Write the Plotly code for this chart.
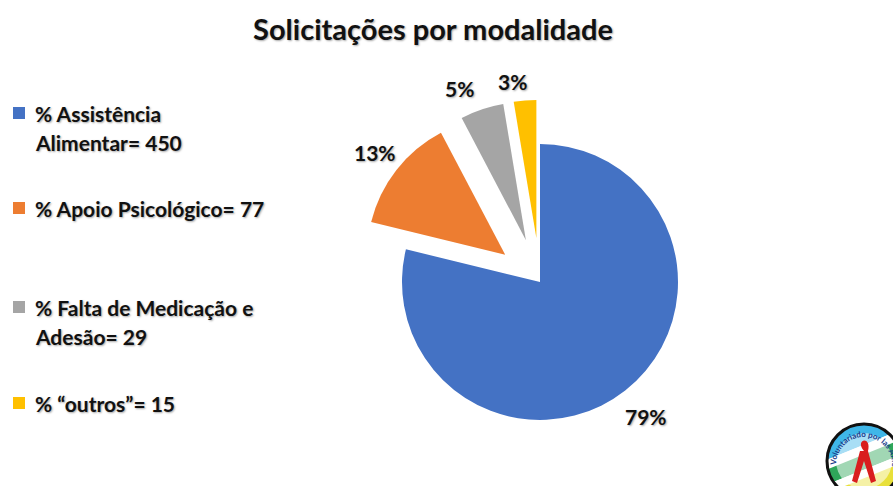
import base64
import math
import plotly.graph_objects as go

# data
labels = ["% Assistência<br>Alimentar", "% Apoio Psicológico",
          "% Falta de Medicação e<br>Adesão", "% “outros”"]
values = [450, 77, 29, 15]
colors = ["#4472C4", "#ED7D31", "#A5A5A5", "#FFC000"]
pulls = [0, 0.32, 0.32, 0.32]
legend_y = [113, 208, 307, 403]   # pixel y of the first line of each legend item

W, H = 893, 486
FONT = "Lato"
SHADOW = "1px 1px 2px rgba(0,0,0,0.35)"

# pie geometry in pixels
CX, CY, R = 540, 282, 138
BOX = R * (1 + max(pulls))
label_dist = [1.24, 1.2, 1.2, 1.15]    # label distance from slice centre, in radii
label_turn = [0, 0, -5, -4]            # small angular nudge of the labels, degrees


def px_x(x):
    return x / W


def px_y(y):
    return 1 - y / H


fig = go.Figure()

fig.add_trace(go.Pie(
    labels=labels,
    values=values,
    sort=False,
    direction="clockwise",
    rotation=0,
    pull=pulls,
    marker=dict(colors=colors, line=dict(width=0)),
    textinfo="none",
    domain=dict(x=[px_x(CX - BOX), px_x(CX + BOX)], y=[px_y(CY + BOX), px_y(CY - BOX)]),
    showlegend=False,
    hoverinfo="label+value+percent",
))

annotations = []
shapes = []

# percentage labels outside each slice
total = sum(values)
start = 0
for val, pull, ld, turn in zip(values, pulls, label_dist, label_turn):
    frac = val / total
    mid = math.radians((start + frac / 2) * 360)
    lab_ang = mid + math.radians(turn)
    x = CX + math.sin(mid) * R * pull + math.sin(lab_ang) * R * ld
    y = CY - math.cos(mid) * R * pull - math.cos(lab_ang) * R * ld
    annotations.append(dict(
        text=f"{round(frac * 100)}%", xref="paper", yref="paper",
        x=px_x(x), y=px_y(y),
        xanchor="center", yanchor="middle", showarrow=False,
        font=dict(family=FONT, size=21, color="#111111", weight="bold", shadow=SHADOW),
    ))
    start += frac

# hand-made legend, with the uneven spacing of the original
for lab, val, col, y0 in zip(labels, values, colors, legend_y):
    lines = f"{lab}= {val}".split("<br>")
    shapes.append(dict(type="rect", xref="paper", yref="paper",
                       x0=px_x(13), x1=px_x(25), y0=px_y(y0 + 6), y1=px_y(y0 - 6),
                       fillcolor=col, line=dict(width=0)))
    for i, line in enumerate(lines):
        annotations.append(dict(
            text=line, xref="paper", yref="paper",
            x=px_x(33), y=px_y(y0 + i * 29), xanchor="left", yanchor="middle",
            showarrow=False,
            font=dict(family=FONT, size=21, color="#111111", weight="bold", shadow=SHADOW),
        ))

# small round logo at the bottom right
logo_svg = """<svg xmlns='http://www.w3.org/2000/svg' width='80' height='80' viewBox='0 0 80 80'>
<defs><clipPath id='c'><circle cx='40' cy='40' r='37'/></clipPath>
<path id='arc' d='M12,44 A28,28 0 0,1 68,44'/></defs>
<g clip-path='url(#c)' transform='rotate(-22 40 40)'>
<rect x='-20' y='-20' width='120' height='45' fill='#3FB6E8'/>
<rect x='-20' y='25' width='120' height='9' fill='#ffffff'/>
<rect x='-20' y='34' width='120' height='14' fill='#2FA65A'/>
<rect x='-20' y='48' width='120' height='8' fill='#ffffff'/>
<rect x='-20' y='56' width='120' height='60' fill='#E8E03A'/>
</g>
<circle cx='40' cy='40' r='28' fill='#ffffff' opacity='0.55'/>
<path d='M40,30 C30,18 48,14 44,30 L52,60 L47,62 L40,40 L33,62 L28,60 L36,30' fill='#D91E1E'/>
<circle cx='40' cy='40' r='37' fill='none' stroke='#111111' stroke-width='3'/>
<text font-family='Lato' font-weight='bold' font-size='8' fill='#1B3C8C'>
<textPath href='#arc'>Voluntariado por las Américas</textPath></text>
</svg>"""
logo_src = "data:image/svg+xml;base64," + base64.b64encode(logo_svg.encode("utf-8")).decode()

fig.update_layout(
    width=W, height=H,
    margin=dict(l=0, r=0, t=0, b=0),
    paper_bgcolor="white",
    plot_bgcolor="white",
    title=dict(text="Solicitações por modalidade", x=px_x(433), xanchor="center",
               y=px_y(30), yanchor="middle",
               font=dict(family=FONT, size=29, color="#111111", weight="bold", shadow=SHADOW)),
    annotations=annotations,
    shapes=shapes,
    images=[dict(source=logo_src, xref="paper", yref="paper",
                 x=px_x(824), y=px_y(421), sizex=80 / W, sizey=80 / H,
                 xanchor="left", yanchor="top", sizing="contain", layer="above")],
)

fig.write_html("out.html", config={"displayModeBar": False},
               post_script="document.body.style.margin='0';")
